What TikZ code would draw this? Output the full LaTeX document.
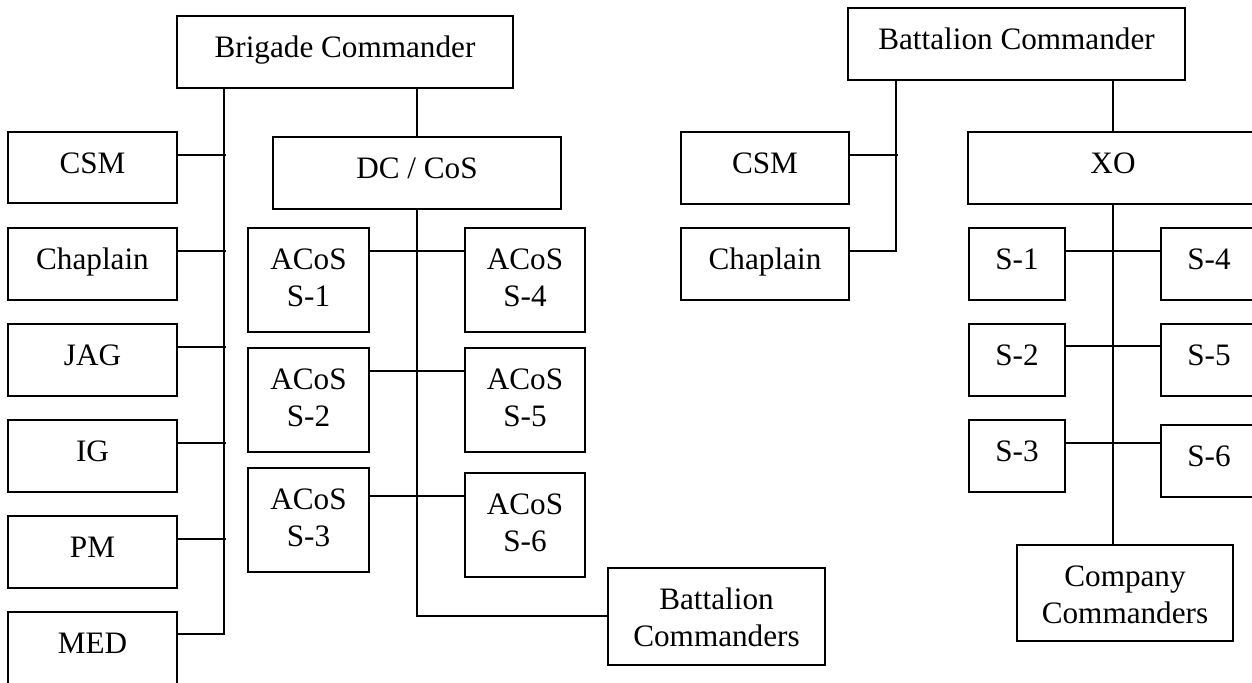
\documentclass[tikz,border=0pt]{standalone}
\usepackage{fontspec}
\setmainfont{Liberation Serif}
\newcommand\twol[2]{\begin{tabular}[t]{@{}c@{}}#1\\#2\end{tabular}}
\newcommand\orgbox[6]{%
  \pgfmathsetmacro\orgboxw{(#4-#2)*0.5}%
  \pgfmathsetmacro\orgboxh{(#5-#3)*0.5}%
  \pgfmathsetmacro\orgboxd{(#5-#3-41)*0.5}%
  \node[obx, minimum width=\orgboxw pt, minimum height=\orgboxh pt, text depth=\orgboxd pt] (#1) at ({(#2+#4)/2},{(#3+#5)/2}) {#6};}
\begin{document}
\begin{tikzpicture}[x=0.5pt,y=-0.5pt,
  font=\fontsize{15.6pt}{18.5pt}\selectfont,
  obx/.style={draw, line width=1pt, inner sep=0pt, text height=20.5pt},
  conn/.style={line width=1pt}]
\useasboundingbox (0,0) rectangle (1252,682);
% ---------------- Brigade ----------------
\orgbox{bc}{177}{16}{513}{88}{Brigade Commander}
\orgbox{csm}{8}{132}{177}{203}{CSM}
\orgbox{chap}{8}{228}{177}{300}{Chaplain\hspace{6pt}}
\orgbox{jag}{8}{324}{177}{396}{JAG}
\orgbox{ig}{8}{420}{177}{492}{IG}
\orgbox{pm}{8}{516}{177}{588}{PM}
\orgbox{med}{8}{612}{177}{684}{MED}
\orgbox{dc}{273}{137}{561}{209}{DC / CoS}
\orgbox{a1}{248}{228}{369}{332}{\twol{ACoS}{S-1}}
\orgbox{a2}{248}{348}{369}{452}{\twol{ACoS}{S-2}}
\orgbox{a3}{248}{468}{369}{572}{\twol{ACoS}{S-3}}
\orgbox{a4}{465}{228}{585}{332}{\twol{ACoS}{S-4}}
\orgbox{a5}{465}{348}{585}{452}{\twol{ACoS}{S-5}}
\orgbox{a6}{465}{473}{585}{577}{\twol{ACoS}{S-6}}
\orgbox{bcs}{608}{568}{825}{665}{\twol{Battalion}{Commanders}}
% connectors
\draw[conn] ([xshift=24pt]bc.south west) |- ([yshift=-11.5pt]med.north east);
\foreach \n in {csm,chap,jag,ig,pm}
  \draw[conn] ([yshift=-12pt]\n.north east) -- ++(24pt,0);
\draw[conn] (dc.north) -- (dc.north |- bc.south);
\draw[conn] (dc.south) |- ([yshift=-24.5pt]bcs.north west);
\draw[conn] ([yshift=-12pt]a1.north east) -- ([yshift=-12pt]a4.north west);
\draw[conn] ([yshift=-12pt]a2.north east) -- ([yshift=-12pt]a5.north west);
\draw[conn] ([yshift=-12pt]a6.north west) -- ([yshift=-12pt]a6.north west -| a3.east);
% ---------------- Battalion ----------------
\orgbox{bnc}{848}{8}{1185}{80}{Battalion Commander}
\orgbox{csmb}{681}{132}{849}{204}{CSM}
\orgbox{chapb}{681}{228}{849}{300}{Chaplain\hspace{6pt}}
\orgbox{xo}{968}{132}{1258}{204}{XO}
\orgbox{s1}{969}{228}{1065}{300}{S-1}
\orgbox{s2}{969}{324}{1065}{396}{S-2}
\orgbox{s3}{969}{420}{1065}{492}{S-3}
\orgbox{s4}{1161}{228}{1257}{300}{S-4}
\orgbox{s5}{1161}{324}{1257}{396}{S-5}
\orgbox{s6}{1161}{425}{1257}{497}{S-6}
\orgbox{coc}{1017}{545}{1233}{641}{\twol{Company}{Commanders}}
\draw[conn] ([xshift=24.5pt]bnc.south west) |- ([yshift=-12pt]chapb.north east);
\draw[conn] ([yshift=-12pt]csmb.north east) -- ++(24pt,0);
\draw[conn] (xo.north) -- (xo.north |- bnc.south);
\draw[conn] (xo.south) -- (xo.south |- coc.north);
\draw[conn] ([yshift=-12pt]s1.north east) -- ([yshift=-12pt]s4.north west);
\draw[conn] ([yshift=-11.5pt]s2.north east) -- ([yshift=-11.5pt]s5.north west);
\draw[conn] ([yshift=-12pt]s3.north east) -- ([yshift=-12pt]s3.north east -| s6.west);
\end{tikzpicture}
\end{document}
